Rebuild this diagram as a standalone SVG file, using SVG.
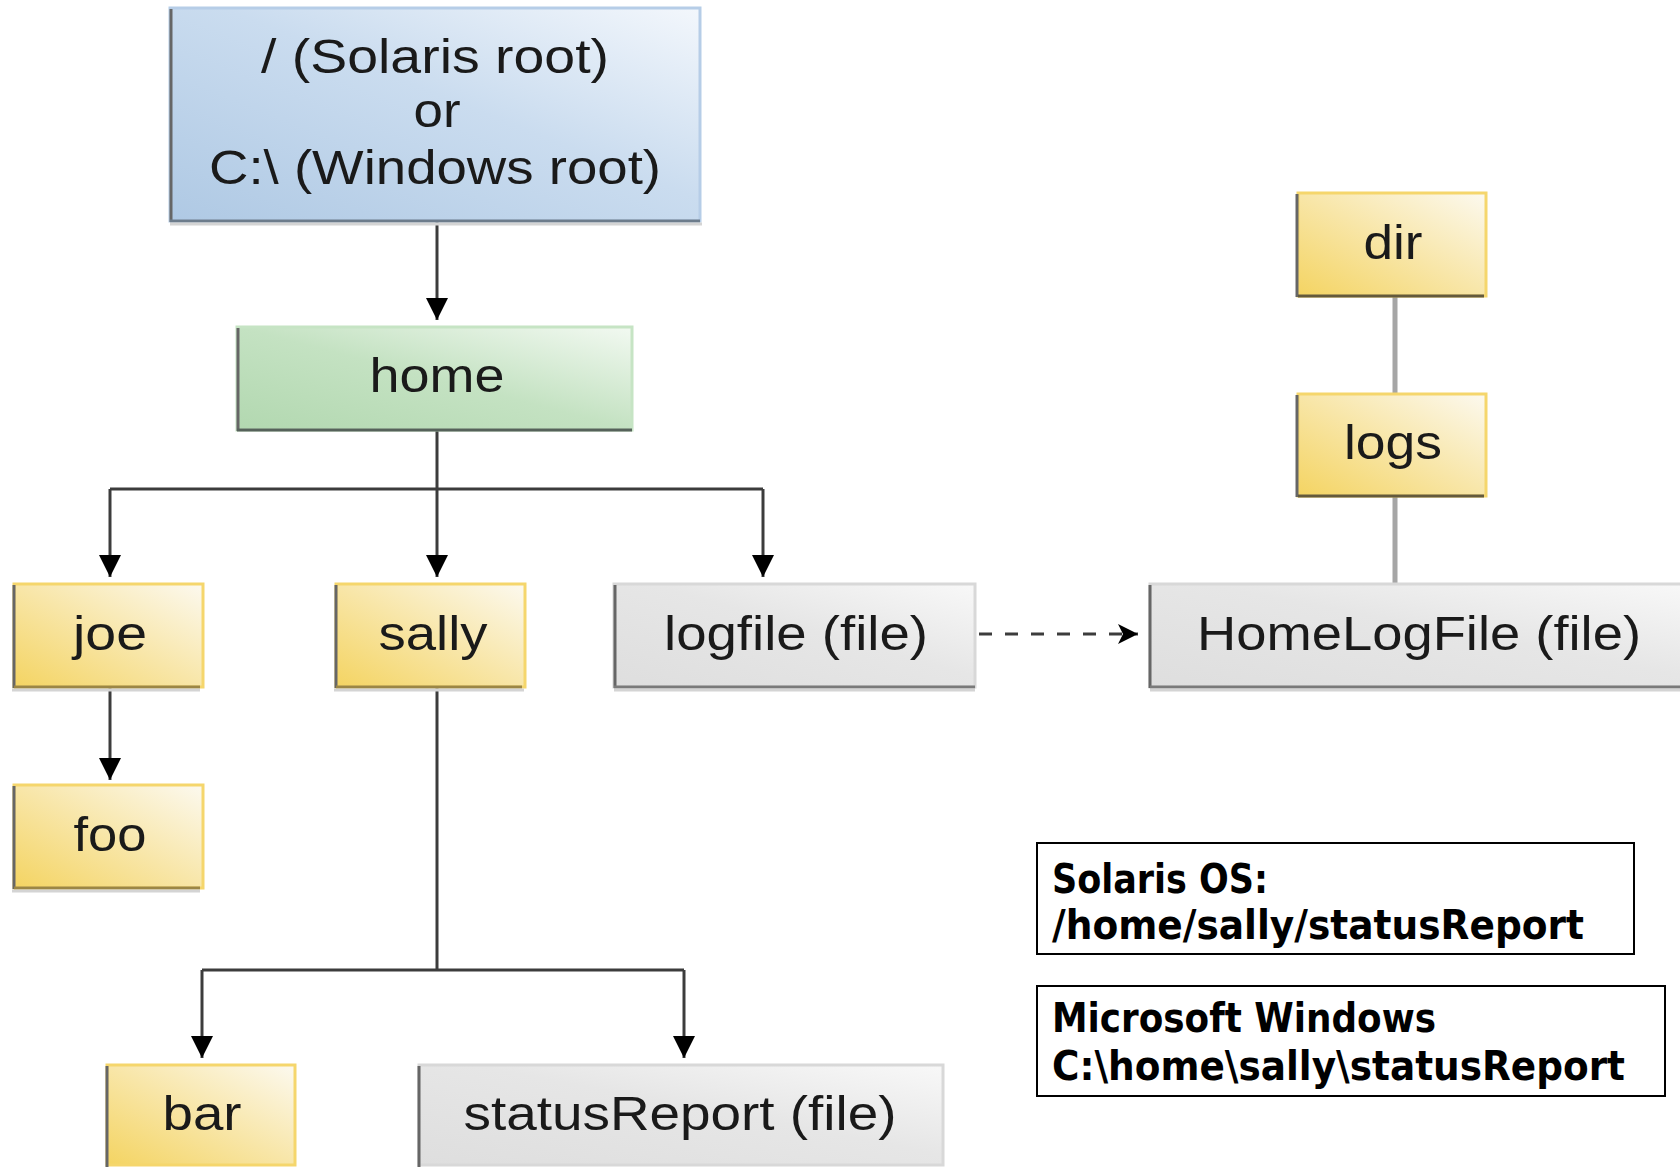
<svg xmlns="http://www.w3.org/2000/svg" width="1680" height="1167" viewBox="0 0 1680 1167">
<style>
.t{font-family:"Liberation Sans",Arial,sans-serif;font-size:48px;fill:#1a1a1a;text-anchor:middle}
.b{font-family:"DejaVu Sans",Verdana,sans-serif;font-weight:bold;font-size:40px;fill:#000}
.c{fill:none;stroke:#3c3c3c;stroke-width:3}
.g{fill:none;stroke:#a6a6a6;stroke-width:5}
.le{stroke:#666;stroke-width:3}
.sh{stroke:#d4d4d4;stroke-width:3}
.note{fill:#fff;stroke:#000;stroke-width:2}
</style>
<defs>
<linearGradient id="gb" x1="0" y1="1" x2="1" y2="0"><stop offset="0" stop-color="#afc9e4"/><stop offset="0.55" stop-color="#cadcef"/><stop offset="1" stop-color="#f3f7fc"/></linearGradient>
<linearGradient id="gg" x1="0" y1="1" x2="1" y2="0"><stop offset="0" stop-color="#b2d8b0"/><stop offset="0.5" stop-color="#c4e2c2"/><stop offset="1" stop-color="#f2f9f1"/></linearGradient>
<linearGradient id="gy" x1="0" y1="1" x2="1" y2="0"><stop offset="0" stop-color="#f4d462"/><stop offset="0.5" stop-color="#f8e6a8"/><stop offset="1" stop-color="#fcf9ef"/></linearGradient>
<linearGradient id="gr" x1="0" y1="1" x2="1" y2="0"><stop offset="0" stop-color="#dedede"/><stop offset="0.55" stop-color="#e6e6e6"/><stop offset="1" stop-color="#f8f8f8"/></linearGradient>
<marker id="ah" viewBox="0 0 10 10" refX="10" refY="5" markerWidth="24" markerHeight="22" markerUnits="userSpaceOnUse" orient="auto"><path d="M0,0 L10,5 L0,10 z" fill="#000"/></marker>
<marker id="ahs" viewBox="0 0 10 10" refX="10" refY="5" markerWidth="24" markerHeight="20" markerUnits="userSpaceOnUse" orient="auto"><path d="M0,0 L10,5 L0,10 L2.5,5 z" fill="#000"/></marker>
</defs>
<rect width="1680" height="1167" fill="#fff"/>

<g id="connectors">
<path class="c" d="M437,222 V320" marker-end="url(#ah)"/>
<path class="c" d="M437,430 V489 M110,489 H763"/>
<path class="c" d="M110,489 V577" marker-end="url(#ah)"/>
<path class="c" d="M437,489 V577" marker-end="url(#ah)"/>
<path class="c" d="M763,489 V577" marker-end="url(#ah)"/>
<path class="c" d="M110,687 V780" marker-end="url(#ah)"/>
<path class="c" d="M437,688 V970 M202,970 H684"/>
<path class="c" d="M202,970 V1058" marker-end="url(#ah)"/>
<path class="c" d="M684,970 V1058" marker-end="url(#ah)"/>
<path class="c" d="M979,634 H1138" stroke-dasharray="13,13" marker-end="url(#ahs)"/>
<path class="g" d="M1395,296 V394 M1395,496 V584"/>
</g>

<g id="root">
<rect x="170" y="8" width="530" height="213" fill="url(#gb)" stroke="#b6cde7" stroke-width="3"/>
<line class="le" x1="171" y1="9" x2="171" y2="222"/>
<line x1="170" y1="221" x2="700" y2="221" stroke="#6d7c8c" stroke-width="3"/>
<line class="sh" x1="170" y1="224" x2="702" y2="224"/>
<text class="t" x="435" y="73" textLength="348" lengthAdjust="spacingAndGlyphs">/ (Solaris root)</text>
<text class="t" x="437" y="127" textLength="47" lengthAdjust="spacingAndGlyphs">or</text>
<text class="t" x="435" y="184" textLength="452" lengthAdjust="spacingAndGlyphs">C:\ (Windows root)</text>
</g>

<g id="home">
<rect x="237" y="327" width="395" height="103" fill="url(#gg)" stroke="#c6e4c4" stroke-width="3"/>
<line class="le" x1="238" y1="328" x2="238" y2="431" stroke="#7a8a7a"/>
<line x1="237" y1="430" x2="632" y2="430" stroke="#56625a" stroke-width="3"/>
<text class="t" x="437" y="392" textLength="135" lengthAdjust="spacingAndGlyphs">home</text>
</g>

<g id="joe">
<rect x="14" y="584" width="189" height="103" fill="url(#gy)" stroke="#f5d66c" stroke-width="3"/>
<line class="le" x1="14" y1="585" x2="14" y2="688"/>
<line x1="14" y1="687" x2="200" y2="687" stroke="#9b8645" stroke-width="3"/>
<line class="sh" x1="12" y1="690" x2="200" y2="690"/>
<text class="t" x="110" y="650" textLength="74" lengthAdjust="spacingAndGlyphs">joe</text>
</g>

<g id="foo">
<rect x="14" y="785" width="189" height="103" fill="url(#gy)" stroke="#f5d66c" stroke-width="3"/>
<line class="le" x1="14" y1="786" x2="14" y2="889"/>
<line x1="14" y1="888" x2="200" y2="888" stroke="#9b8645" stroke-width="3"/>
<line class="sh" x1="12" y1="891" x2="200" y2="891"/>
<text class="t" x="110" y="851" textLength="73" lengthAdjust="spacingAndGlyphs">foo</text>
</g>

<g id="sally">
<rect x="336" y="584" width="189" height="103" fill="url(#gy)" stroke="#f5d66c" stroke-width="3"/>
<line class="le" x1="336" y1="585" x2="336" y2="688" stroke="#999"/>
<line x1="336" y1="687" x2="522" y2="687" stroke="#9b8645" stroke-width="3"/>
<line class="sh" x1="334" y1="690" x2="524" y2="690"/>
<text class="t" x="433" y="650" textLength="109" lengthAdjust="spacingAndGlyphs">sally</text>
</g>

<g id="logfile">
<rect x="614" y="584" width="361" height="103" fill="url(#gr)" stroke="#d8d8d8" stroke-width="3"/>
<line class="le" x1="615" y1="585" x2="615" y2="688" stroke="#888"/>
<line x1="614" y1="687" x2="975" y2="687" stroke="#7a7a7a" stroke-width="3"/>
<line class="sh" x1="614" y1="690" x2="975" y2="690"/>
<text class="t" x="796" y="650" textLength="264" lengthAdjust="spacingAndGlyphs">logfile (file)</text>
</g>

<g id="homelogfile">
<rect x="1150" y="584" width="540" height="103" fill="url(#gr)" stroke="#d8d8d8" stroke-width="3"/>
<line class="le" x1="1150" y1="585" x2="1150" y2="688" stroke="#888"/>
<line x1="1150" y1="687" x2="1680" y2="687" stroke="#7a7a7a" stroke-width="3"/>
<line class="sh" x1="1150" y1="690" x2="1680" y2="690"/>
<text class="t" x="1419" y="650" textLength="444" lengthAdjust="spacingAndGlyphs">HomeLogFile (file)</text>
</g>

<g id="dir">
<rect x="1298" y="193" width="188" height="103" fill="url(#gy)" stroke="#f5d66c" stroke-width="3"/>
<line class="le" x1="1297" y1="194" x2="1297" y2="297" stroke="#999"/>
<line x1="1298" y1="296" x2="1484" y2="296" stroke="#645a3c" stroke-width="3"/>
<text class="t" x="1393" y="259" textLength="59" lengthAdjust="spacingAndGlyphs">dir</text>
</g>

<g id="logs">
<rect x="1298" y="394" width="188" height="102" fill="url(#gy)" stroke="#f5d66c" stroke-width="3"/>
<line class="le" x1="1297" y1="395" x2="1297" y2="497" stroke="#999"/>
<line x1="1298" y1="496" x2="1484" y2="496" stroke="#645a3c" stroke-width="3"/>
<text class="t" x="1393" y="459" textLength="98" lengthAdjust="spacingAndGlyphs">logs</text>
</g>

<g id="bar">
<rect x="107" y="1065" width="188" height="100" fill="url(#gy)" stroke="#f5d66c" stroke-width="3"/>
<line class="le" x1="107" y1="1066" x2="107" y2="1167" stroke="#999"/>
<text class="t" x="202" y="1130" textLength="79" lengthAdjust="spacingAndGlyphs">bar</text>
</g>

<g id="statusreport">
<rect x="419" y="1065" width="524" height="100" fill="url(#gr)" stroke="#d8d8d8" stroke-width="3"/>
<line class="le" x1="419" y1="1066" x2="419" y2="1167"/>
<text class="t" x="680" y="1130" textLength="433" lengthAdjust="spacingAndGlyphs">statusReport (file)</text>
</g>

<g id="note-solaris">
<rect class="note" x="1037" y="843" width="597" height="111"/>
<text class="b" x="1052" y="893" textLength="216" lengthAdjust="spacingAndGlyphs">Solaris OS:</text>
<text class="b" x="1052" y="939" textLength="532" lengthAdjust="spacingAndGlyphs">/home/sally/statusReport</text>
</g>

<g id="note-windows">
<rect class="note" x="1037" y="986" width="628" height="110"/>
<text class="b" x="1052" y="1032" textLength="384" lengthAdjust="spacingAndGlyphs">Microsoft Windows</text>
<text class="b" x="1052" y="1080" textLength="573" lengthAdjust="spacingAndGlyphs">C:\home\sally\statusReport</text>
</g>
</svg>
